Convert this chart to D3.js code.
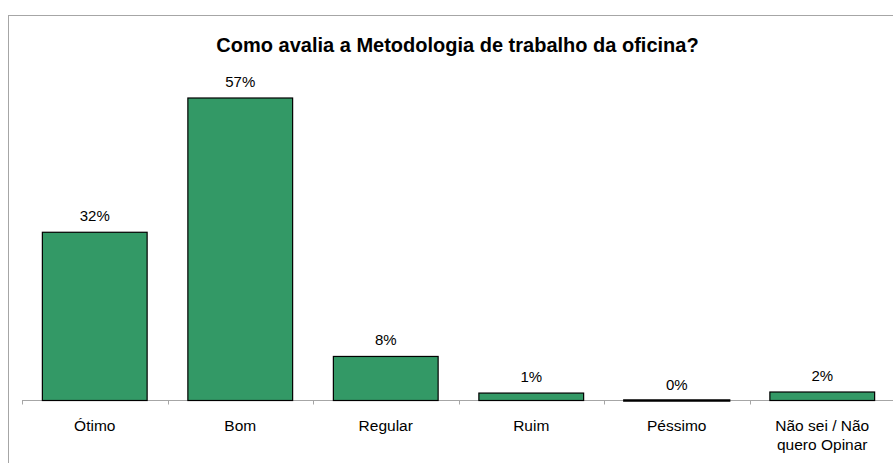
<!DOCTYPE html>
<html>
<head>
<meta charset="utf-8">
<script src="https://cdn.jsdelivr.net/npm/d3@7"></script>
<style>
  html, body { margin: 0; padding: 0; background: #fff; }
  svg { display: block; font-family: "Liberation Sans", Arial, sans-serif; }
</style>
</head>
<body>
<svg id="chart" width="893" height="463"></svg>
<script>
const title = "Como avalia a Metodologia de trabalho da oficina?";
const categories = ["Ótimo", "Bom", "Regular", "Ruim", "Péssimo", "Não sei / Não\nquero Opinar"];
const values = [31.7, 57, 8.3, 1.4, 0, 1.6];

const svg = d3.select("#chart");

// outer frame
svg.append("rect")
  .attr("x", 8.5).attr("y", 15.5)
  .attr("width", 1000).attr("height", 1000)
  .attr("fill", "none").attr("stroke", "#a6a6a6").attr("stroke-width", 1);

const x = d3.scaleBand()
  .domain(categories)
  .range([22, 895])
  .paddingInner(0.28)
  .paddingOuter(0.14);

const y = d3.scaleLinear()
  .domain([0, 60])
  .range([400.5, 400.5 - 60 * 5.307]);

// title
svg.append("text")
  .attr("x", 457.5).attr("y", 52)
  .attr("text-anchor", "middle")
  .attr("font-size", 20).attr("font-weight", "bold")
  .attr("fill", "#000")
  .text(title);

// x axis baseline + ticks
const axisY = y(0);
svg.append("line")
  .attr("x1", 22).attr("x2", 893)
  .attr("y1", axisY).attr("y2", axisY)
  .attr("stroke", "#a6a6a6").attr("stroke-width", 1);

const tickPos = categories.map(c => x(c) - x.step() * x.paddingOuter());
svg.selectAll(".tick")
  .data(tickPos)
  .join("line")
  .attr("x1", d => Math.round(d) + 0.5).attr("x2", d => Math.round(d) + 0.5)
  .attr("y1", axisY).attr("y2", axisY + 4)
  .attr("stroke", "#a6a6a6").attr("stroke-width", 1);

// bars
const data = categories.map((c, i) => ({ c, v: values[i] }));
svg.selectAll(".bar")
  .data(data)
  .join("rect")
  .attr("x", d => x(d.c))
  .attr("y", d => y(d.v))
  .attr("width", x.bandwidth())
  .attr("height", d => Math.max(0.01, y(0) - y(d.v)))
  .attr("fill", "#339966")
  .attr("stroke", "#000")
  .attr("stroke-width", d => d.v === 0 ? 2.5 : 1.2);

// data labels
svg.selectAll(".val")
  .data(data)
  .join("text")
  .attr("x", d => x(d.c) + x.bandwidth() / 2)
  .attr("y", d => y(d.v) - 11)
  .attr("text-anchor", "middle")
  .attr("font-size", 15)
  .attr("fill", "#000")
  .text(d => Math.round(d.v) + "%");

// category labels
svg.selectAll(".cat")
  .data(data)
  .join("text")
  .attr("x", d => x(d.c) + x.bandwidth() / 2)
  .attr("y", 431)
  .attr("text-anchor", "middle")
  .attr("font-size", 15.5)
  .attr("fill", "#000")
  .each(function(d) {
    const lines = d.c.split("\n");
    d3.select(this).selectAll("tspan")
      .data(lines)
      .join("tspan")
      .attr("x", x(d.c) + x.bandwidth() / 2)
      .attr("dy", (l, i) => i === 0 ? 0 : 19)
      .text(l => l);
  });
</script>
</body>
</html>
